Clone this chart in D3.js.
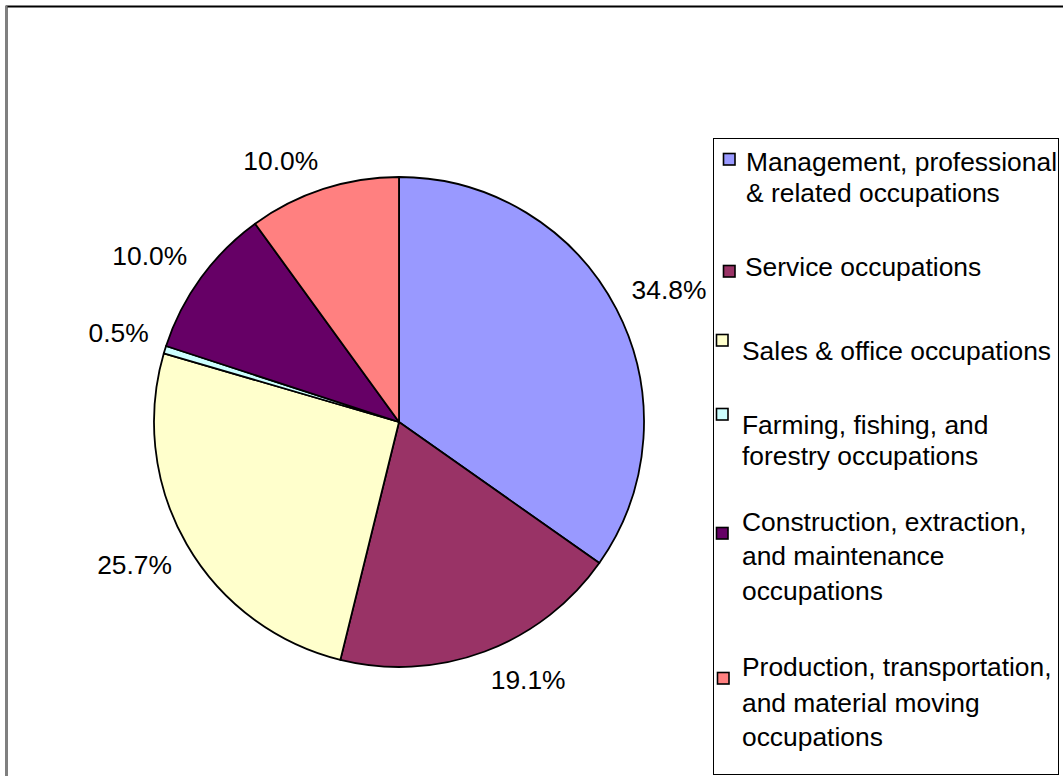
<!doctype html>
<html>
<head>
<meta charset="utf-8">
<title>Occupations pie</title>
<script src="https://cdnjs.cloudflare.com/ajax/libs/d3/7.8.5/d3.min.js"></script>
<style>
  body { margin: 0; background: #fff; }
  svg { display: block; font-family: "Liberation Sans", Arial, sans-serif; }
</style>
</head>
<body>
<svg width="1063" height="776"></svg>
<script>
// data
var categories = [
  "Management, professional & related occupations",
  "Service occupations",
  "Sales & office occupations",
  "Farming, fishing, and forestry occupations",
  "Construction, extraction, and maintenance occupations",
  "Production, transportation, and material moving occupations"
];
var legendLines = [
  ["Management, professional", "& related occupations"],
  ["Service occupations"],
  ["Sales & office occupations"],
  ["Farming, fishing, and", "forestry occupations"],
  ["Construction, extraction,", "and maintenance", "occupations"],
  ["Production, transportation,", "and material moving", "occupations"]
];
var shares = [34.8, 19.1, 25.7, 0.5, 10.0, 10.0];
var colors = ["#9999ff", "#993366", "#ffffcc", "#ccffff", "#660066", "#ff8080"];

// legend layout (Excel wraps them a bit unevenly)
var legendLayout = [
  { sx: 723, sy: 153, tx: 746, ty: [162, 193] },
  { sx: 723, sy: 265, tx: 745, ty: [267] },
  { sx: 716, sy: 334, tx: 742, ty: [351] },
  { sx: 716, sy: 408, tx: 742, ty: [425, 456] },
  { sx: 716, sy: 527, tx: 742, ty: [522, 556, 591] },
  { sx: 717, sy: 672, tx: 742, ty: [667, 703, 737] }
];

var svg = d3.select("svg"),
    cx = 399, cy = 422, radius = 245,
    fontSize = 26.4;

// outer chart frame
svg.append("rect")
    .attr("x", 6.5).attr("y", 6.5)
    .attr("width", 1070).attr("height", 790)
    .attr("fill", "none").attr("stroke", "#000").attr("stroke-width", 2);
svg.append("line")
    .attr("x1", 6.5).attr("x2", 6.5).attr("y1", 6).attr("y2", 776)
    .attr("stroke", "#808080").attr("stroke-width", 2);

var pie = d3.pie().sort(null).value(function (d) { return d; });
var arc = d3.arc().innerRadius(0).outerRadius(radius);
var arcs = pie(shares);

var g = svg.append("g").attr("transform", "translate(" + cx + "," + cy + ")");

g.selectAll(".slice")
    .data(arcs)
    .enter().append("path")
    .attr("class", "slice")
    .attr("d", arc)
    .attr("fill", function (d, i) { return colors[i]; })
    .attr("stroke", "#000")
    .attr("stroke-width", 1.8)
    .attr("stroke-linejoin", "round");

// percent labels: the corner of the label box nearest the pie sits on a ring
var labelGap = 262;
g.selectAll(".pct")
    .data(arcs)
    .enter().append("text")
    .attr("class", "pct")
    .attr("text-anchor", "middle")
    .attr("dy", "0.35em")
    .attr("font-size", fontSize)
    .text(function (d) { return d.data.toFixed(1) + "%"; })
    .each(function (d) {
        var a = (d.startAngle + d.endAngle) / 2,
            sx = Math.sin(a), sy = -Math.cos(a),
            w = this.getComputedTextLength(), h = 24;
        d3.select(this)
            .attr("x", sx * labelGap + Math.sign(sx) * w / 2)
            .attr("y", sy * labelGap + Math.sign(sy) * h / 2);
    });

// legend
svg.append("rect")
    .attr("x", 713.5).attr("y", 138.5)
    .attr("width", 345).attr("height", 636)
    .attr("fill", "none").attr("stroke", "#000").attr("stroke-width", 1);

var items = svg.selectAll(".legend")
    .data(categories)
    .enter().append("g")
    .attr("class", "legend");

items.append("rect")
    .attr("x", function (d, i) { return legendLayout[i].sx + 0.5; })
    .attr("y", function (d, i) { return legendLayout[i].sy + 0.5; })
    .attr("width", 11.5).attr("height", 11.5)
    .attr("fill", function (d, i) { return colors[i]; })
    .attr("stroke", "#000").attr("stroke-width", 1.6);

items.each(function (d, i) {
    var lay = legendLayout[i];
    d3.select(this).selectAll("text")
        .data(legendLines[i])
        .enter().append("text")
        .attr("x", lay.tx)
        .attr("y", function (t, j) { return lay.ty[j]; })
        .attr("dy", "0.35em")
        .attr("font-size", fontSize)
        .attr("fill", "#000")
        .text(function (t) { return t; });
});
</script>
</body>
</html>
